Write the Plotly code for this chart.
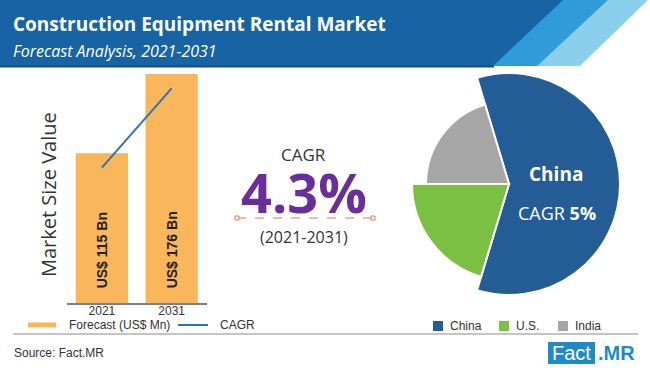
import plotly.graph_objects as go

# ---------------- data ----------------
years = ["2021", "2031"]
market_size_bn = [115, 176]
cagr_trend = [104, 165]
cagr_value = "4.3%"
cagr_period = "(2021-2031)"

regions = ["China", "U.S.", "India"]
region_share = [59.3, 20.35, 20.35]
region_size = [111, 97, 83]
region_colors = ["#245d96", "#7ac143", "#a6a6a6"]
china_cagr = "5%"

W, H = 650, 368
def X(px): return px / W
def Y(py): return 1 - py / H

FONT = "Open Sans"
LEG = "Liberation Sans"
TXT = "#333333"
NB = "\u00a0"

fig = go.Figure()

# bars
fig.add_trace(go.Bar(
    x=years, y=market_size_bn, width=0.75,
    marker=dict(color="#F9B65A", line=dict(width=0)),
    text=[f"{NB}{NB}{NB}<b>US$ {v} Bn</b>" for v in market_size_bn],
    textposition="inside", insidetextanchor="start", textangle=-90,
    insidetextfont=dict(size=14, color="#222222", family=LEG),
    cliponaxis=False,
    name="Forecast (US$ Mn)", xaxis="x", yaxis="y", hoverinfo="skip",
))
fig.add_trace(go.Scatter(
    x=years, y=cagr_trend, mode="lines",
    line=dict(color="#2f75b5", width=2), name="CAGR",
    xaxis="x", yaxis="y", hoverinfo="skip",
))

# pie drawn as variable radius polar bars
start = -(region_share[0] * 3.6 - 180) / 2
thetas, widths = [], []
acc = start
for s in region_share:
    w = s * 3.6
    thetas.append(acc + w / 2)
    widths.append(w)
    acc += w
fig.add_trace(go.Barpolar(
    r=region_size, theta=thetas, width=widths,
    marker=dict(color=region_colors, line=dict(color="white", width=2)),
    subplot="polar", hoverinfo="skip", name="regions",
))

shapes = []
# header band with stripes
def poly(pts, color):
    d = "M " + " L ".join(f"{X(a)},{Y(b)}" for a, b in pts) + " Z"
    return dict(type="path", path=d, xref="paper", yref="paper",
                fillcolor=color, line=dict(width=0), layer="below")
shapes.append(poly([(0, 0), (648, 0), (580, 66), (0, 66)], "#8acfec"))
shapes.append(poly([(0, 0), (608, 0), (537, 66), (0, 66)], "#2f9bd7"))
shapes.append(poly([(0, 0), (563, 0), (493, 66), (0, 66)], "#1763a4"))
shapes.append(dict(type="line", xref="paper", yref="paper",
                   x0=X(0), x1=X(494), y0=Y(66.5), y1=Y(66.5),
                   line=dict(color="#0f4d84", width=2)))

# dashed line under CAGR
shapes.append(dict(type="line", xref="paper", yref="paper",
                   x0=X(237), x1=X(373), y0=Y(218), y1=Y(218),
                   line=dict(color="#e07b55", width=1.2, dash="dash")))
for cx in (237, 373):
    shapes.append(dict(type="rect", xref="paper", yref="paper",
                       x0=X(cx - 2), x1=X(cx + 2), y0=Y(216), y1=Y(220),
                       fillcolor="white", line=dict(color="#e07b55", width=1)))

# legend swatches
shapes.append(dict(type="line", xref="paper", yref="paper",
                   x0=X(28), x1=X(56), y0=Y(325), y1=Y(325),
                   line=dict(color="#F9B65A", width=5)))
shapes.append(dict(type="line", xref="paper", yref="paper",
                   x0=X(178), x1=X(208), y0=Y(325), y1=Y(325),
                   line=dict(color="#2f75b5", width=2)))
for (sx, col) in [(433, region_colors[0]), (499, region_colors[1]), (558, region_colors[2])]:
    shapes.append(dict(type="rect", xref="paper", yref="paper",
                       x0=X(sx), x1=X(sx + 10), y0=Y(331), y1=Y(321),
                       fillcolor=col, line=dict(width=0)))
# rule
shapes.append(dict(type="line", xref="paper", yref="paper",
                   x0=X(13), x1=X(638), y0=Y(334), y1=Y(334),
                   line=dict(color="#8c8c8c", width=1.2)))
# logo box
shapes.append(dict(type="rect", xref="paper", yref="paper",
                   x0=X(548), x1=X(595), y0=Y(364), y1=Y(342),
                   fillcolor="#1e8bc8", line=dict(width=0)))

ann = []
def txt(px, py, t, size, color=TXT, xanchor="center", family=FONT, angle=0, **kw):
    ann.append(dict(x=X(px), y=Y(py), xref="paper", yref="paper", text=t,
                    showarrow=False, xanchor=xanchor, yanchor="middle",
                    textangle=angle,
                    font=dict(size=size, color=color, family=family), **kw))

txt(11, 24, "<b>Construction Equipment Rental Market</b>", 19, "white", "left")
txt(11, 51, "<i>Forecast Analysis, 2021-2031</i>", 16, "white", "left")

txt(48, 195, "Market Size Value", 20, TXT, angle=-90)

txt(303, 154, "CAGR", 17, TXT)
txt(304, 192, f"<b>{cagr_value}</b>", 54, "#6a2d9c")
txt(304, 237, cagr_period, 16, TXT)

txt(556, 174, f"<b>{regions[0]}</b>", 19, "white")
txt(557, 213, f"CAGR <b>{china_cagr}</b>", 18, "white")

txt(67, 325, "Forecast (US$ Mn)", 12, TXT, "left", family=LEG)
txt(218, 325, "CAGR", 12, TXT, "left", family=LEG)
txt(448, 326, regions[0], 12, TXT, "left", family=LEG)
txt(514, 326, regions[1], 12, TXT, "left", family=LEG)
txt(573, 326, regions[2], 12, TXT, "left", family=LEG)
txt(12, 353, "Source: Fact.MR", 12, TXT, "left", family=LEG)
txt(571.5, 353, "Fact", 20, "white", family=LEG)
txt(596, 353, "<b>.MR</b>", 20, "#1e8bc8", "left", family=LEG)

fig.update_layout(
    width=W, height=H, margin=dict(l=0, r=0, t=0, b=0),
    paper_bgcolor="white", plot_bgcolor="rgba(0,0,0,0)",
    showlegend=False, shapes=shapes, annotations=ann,
    uniformtext=dict(minsize=14, mode="show"),
    xaxis=dict(domain=[X(67), X(206.5)], range=[-0.5, 1.5], type="category",
               showline=True, linecolor="#7f7f7f", linewidth=2,
               showgrid=False, ticks="", ticklabelstandoff=-4,
               tickfont=dict(size=12, color=TXT, family=LEG),
               fixedrange=True),
    yaxis=dict(domain=[Y(303), Y(74)], range=[0, 176], showgrid=False,
               showticklabels=False, zeroline=False, showline=False, fixedrange=True),
    polar=dict(domain=dict(x=[X(397), X(621)], y=[Y(296), Y(72)]),
               bgcolor="rgba(0,0,0,0)",
               radialaxis=dict(range=[0, 112], visible=False),
               angularaxis=dict(visible=False, direction="clockwise", rotation=90)),
    font=dict(family=FONT),
)

fig.write_html("out.html", config={"displayModeBar": False},
               post_script="document.body.style.margin='0px';document.body.style.padding='0px';")
